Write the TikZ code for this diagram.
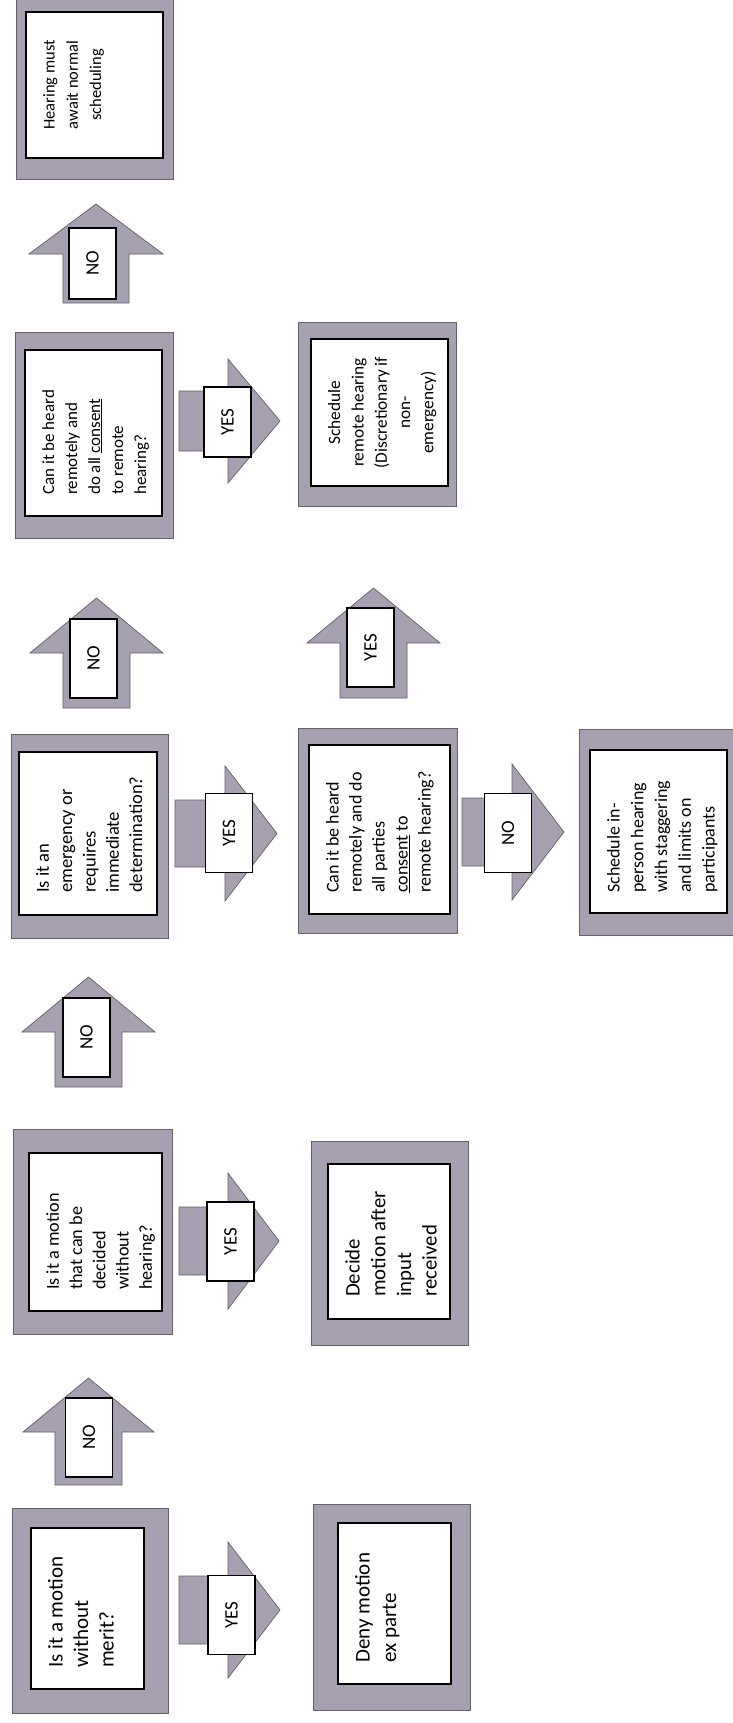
\documentclass[tikz,border=0pt]{standalone}
\usepackage{fontspec}
\setmainfont{Carlito}
\definecolor{framefill}{RGB}{167,160,177}
\definecolor{frameedge}{RGB}{100,96,106}
\tikzset{
  outerbox/.style={rectangle, fill=framefill, draw=frameedge, line width=0.7pt, inner sep=0pt},
  innerbox/.style={rectangle, fill=white, draw=black, line width=1.5pt, inner sep=0pt},
  qtext/.style={rotate=90, inner sep=0pt, align=left, text=black},
  ctext/.style={rotate=90, inner sep=0pt, align=center, text=black},
  blockarrow/.style={fill=framefill, draw=frameedge, line width=0.7pt, line join=miter},
  lbl/.style={rectangle, rotate=90, fill=white, draw=black, line width=1.3pt, inner sep=0pt,
    minimum width=79pt, minimum height=47pt, font=\fontsize{19}{23}\selectfont},
}
\newcommand{\Frame}[9]{%
  \node[outerbox, minimum width={(#4-#2)*1pt}, minimum height={(#5-#3)*1pt}] (#1o) at ({(#2+#4)/2},{(#3+#5)/2}) {};
  \node[innerbox, minimum width={(#8-#6)*1pt}, minimum height={(#9-#7)*1pt}] (#1) at ({(#6+#8)/2},{(#7+#9)/2}) {};}
\begin{document}
\begin{tikzpicture}[x=1pt,y=-1pt]
\useasboundingbox (0,0) rectangle (733,1723);
\clip (0,0) rectangle (733,1723);
\fill[white] (0,0) rectangle (733,1723);

% frames
\Frame{qa}{12}{1508}{168}{1713}{31}{1528}{144}{1689}
\Frame{deny}{313}{1504}{470}{1710}{338}{1523}{451}{1684}
\Frame{qb}{13}{1129}{172}{1334}{29}{1153}{162}{1311}
\Frame{decide}{311}{1141}{468}{1345}{328}{1164}{450}{1319}
\Frame{qc}{11}{734}{168}{938}{19}{752}{157}{915}
\Frame{qd}{298}{728}{457}{933}{309}{745}{450}{914}
\Frame{inperson}{579}{729}{741}{935}{590}{750}{727}{913}
\Frame{qe}{15}{332}{173}{538}{25}{350}{162}{516}
\Frame{remote}{298}{322}{456}{506}{311}{339}{448}{486}
\Frame{await}{16}{-12}{173}{179}{26}{12}{163}{158}

% texts
\node[qtext, anchor=north west, font=\fontsize{21}{25.5}\selectfont] (qat) at (48,1668) {Is it a motion\\without\\merit?};
\node[qtext, anchor=north west, font=\fontsize{21}{26.5}\selectfont] (denyt) at (355,1663) {Deny motion\\ex parte};
\node[qtext, anchor=north west, font=\fontsize{18.2}{23.3}\selectfont] (qbt) at (46,1290) {Is it a motion\\that can be\\decided\\without\\hearing?};
\node[qtext, anchor=north west, font=\fontsize{20.8}{25.7}\selectfont] (decidet) at (345,1297) {Decide\\motion after\\input\\received};
\node[qtext, anchor=north west, font=\fontsize{18.5}{23.3}\selectfont] (qct) at (36,893) {Is it an\\emergency or\\requires\\immediate\\determination?};
\node[qtext, anchor=north west, font=\fontsize{18}{23}\selectfont] (qdt) at (326,893) {Can it be heard\\remotely and do\\all parties\\\underline{consent} to\\remote hearing?};
\node[qtext, anchor=north west, font=\fontsize{18}{23.7}\selectfont] (inpersont) at (607,893) {Schedule in-\\person hearing\\with staggering\\and limits on\\participants};
\node[qtext, anchor=north west, font=\fontsize{17}{23}\selectfont] (qet) at (42,495) {Can it be heard\\remotely and\\do all \underline{consent}\\to remote\\hearing?};
\node[ctext, anchor=north, font=\fontsize{17.3}{23.3}\selectfont] (remotet) at (328,412.5) {Schedule\\remote hearing\\(Discretionary if\\non-\\emergency)};
\node[ctext, anchor=north, font=\fontsize{16.5}{23.3}\selectfont] (awaitt) at (43,85) {Hearing must\\await normal\\scheduling};

% up block arrows (NO / YES)
\draw[blockarrow] (55,1485) -- (55,1432) -- (23,1432) -- (88.5,1378) -- (154,1432) -- (122,1432) -- (122,1485) -- cycle;
\draw[blockarrow] (55,1087) -- (55,1032) -- (22,1032) -- (88.5,977) -- (155,1032) -- (122,1032) -- (122,1087) -- cycle;
\draw[blockarrow] (63,708) -- (63,653) -- (30,653) -- (96.5,598) -- (163,653) -- (130,653) -- (130,708) -- cycle;
\draw[blockarrow] (63,303) -- (63,254) -- (29,254) -- (96,204) -- (163,254) -- (129,254) -- (129,303) -- cycle;
\draw[blockarrow] (340,698) -- (340,643) -- (307,643) -- (373.5,588) -- (440,643) -- (407,643) -- (407,698) -- cycle;

% right block arrows
\draw[blockarrow] (179,1576) -- (228,1576) -- (228,1542) -- (280,1610) -- (228,1678) -- (228,1644) -- (179,1644) -- cycle;
\draw[blockarrow] (179,1207) -- (228,1207) -- (228,1173) -- (279,1241) -- (228,1309) -- (228,1275) -- (179,1275) -- cycle;
\draw[blockarrow] (175,800) -- (225,800) -- (225,766) -- (277,833.5) -- (225,901) -- (225,867) -- (175,867) -- cycle;
\draw[blockarrow] (179,391) -- (228,391) -- (228,359) -- (280,421) -- (228,483) -- (228,451) -- (179,451) -- cycle;
\draw[blockarrow] (462,798) -- (512,798) -- (512,764) -- (564,832) -- (512,900) -- (512,866) -- (462,866) -- cycle;

% labels
\node[lbl] (na) at (89,1437.5) {NO};
\node[lbl] (nb) at (86.5,1037.5) {NO};
\node[lbl] (nc) at (93.5,658.5) {NO};
\node[lbl, minimum width=71pt] (nd) at (92.5,263.5) {NO};
\node[lbl] (ye) at (370.5,647.5) {YES};
\node[lbl] (ya) at (231.5,1615) {YES};
\node[lbl] (yb) at (230.5,1241.5) {YES};
\node[lbl] (yc) at (229,833) {YES};
\node[lbl, minimum width=70pt] (yd) at (227.5,422) {YES};
\node[lbl] (nf) at (508,833) {NO};
\end{tikzpicture}
\end{document}
